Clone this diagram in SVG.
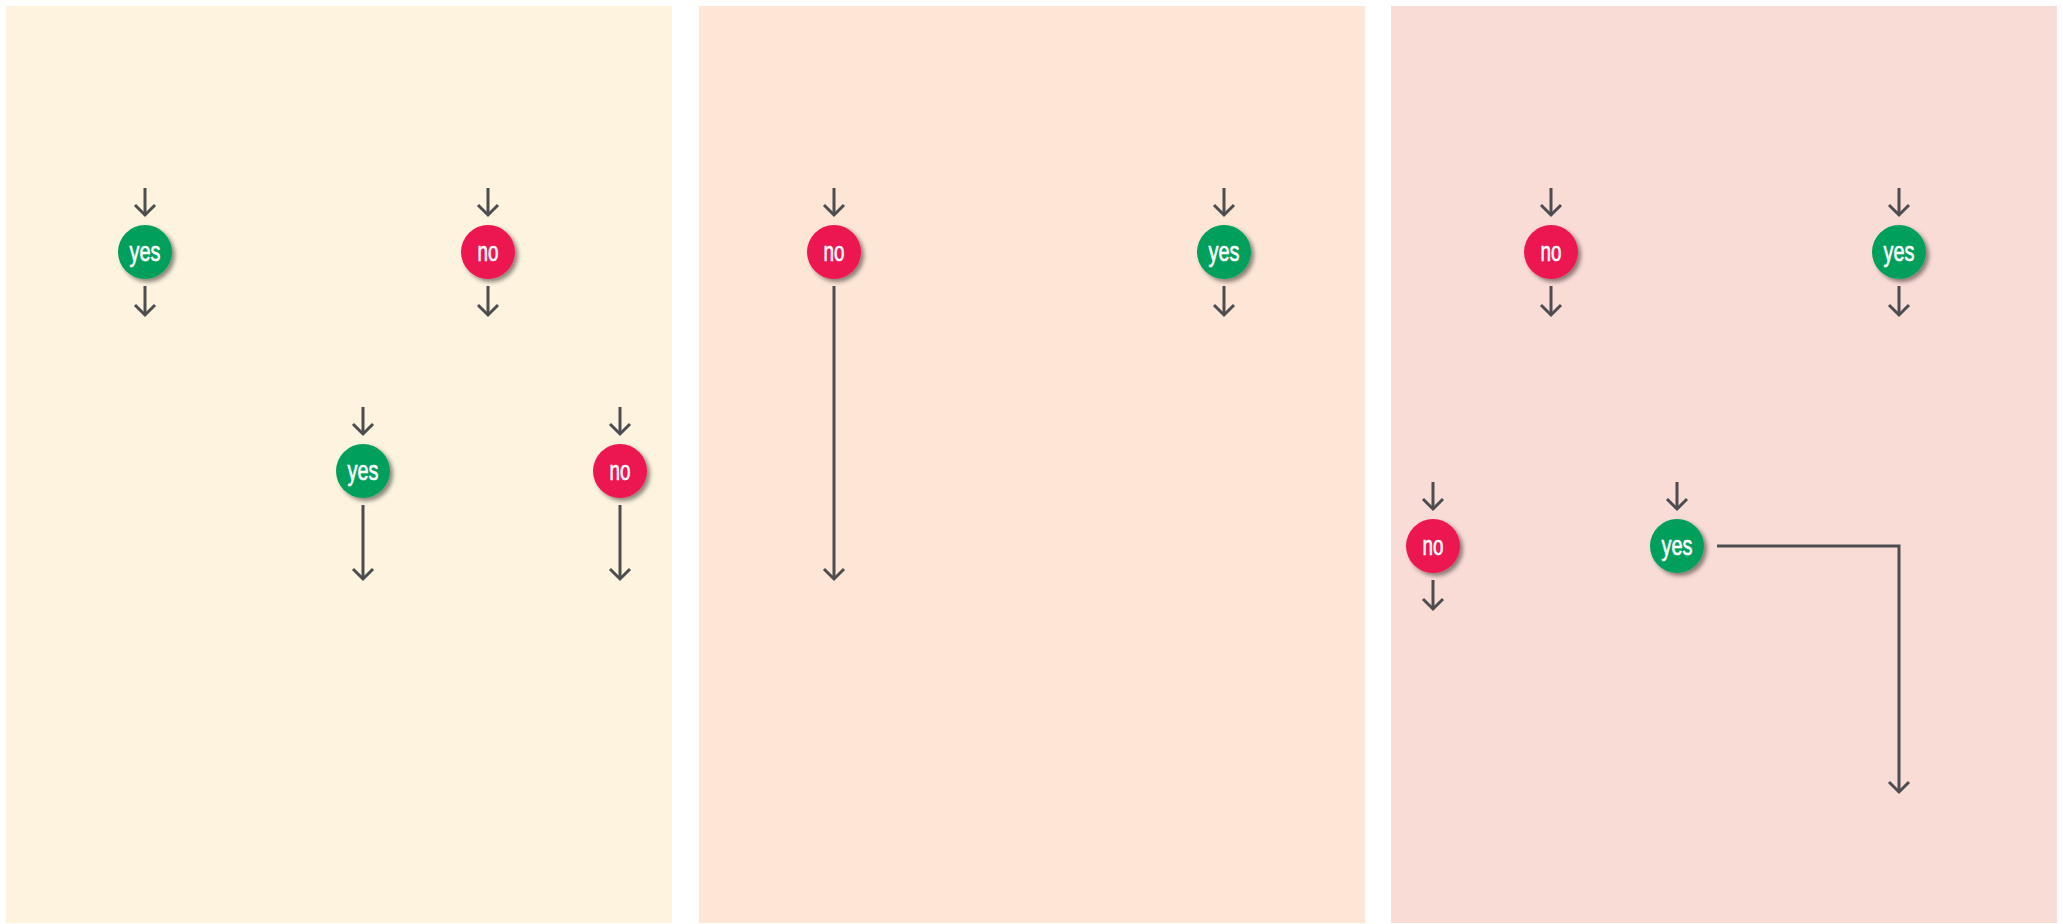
<svg xmlns="http://www.w3.org/2000/svg" width="2063" height="924" viewBox="0 0 2063 924">
<style>
.bg{stroke:none}
.c{stroke:#4d4d4f;stroke-width:3;fill:none}
.yes{fill:#00a05b}
.no{fill:#ec1651}
.t{fill:#ffffff;stroke:#ffffff;stroke-width:0.6;font-family:"Liberation Sans",Arial,sans-serif;font-size:28px;text-anchor:middle}
</style>
<defs>
<marker id="ah" markerUnits="userSpaceOnUse" markerWidth="24" markerHeight="24" viewBox="-12 -12 24 24" refX="0" refY="0" orient="auto">
<path d="M-10,-10 L0,0 L-10,10" fill="none" stroke="#4d4d4f" stroke-width="3"/>
</marker>
<filter id="sh" x="-30%" y="-30%" width="170%" height="170%">
<feDropShadow dx="3" dy="3" stdDeviation="2" flood-color="#000" flood-opacity="0.45"/>
</filter>
</defs>
<rect class="bg" x="0" y="0" width="2063" height="924" fill="#ffffff"/>
<rect class="bg" x="6" y="6" width="666" height="917" fill="#fdf3de"/>
<rect class="bg" x="699" y="6" width="666" height="917" fill="#fde6d5"/>
<rect class="bg" x="1391" y="6" width="666" height="917" fill="#fadcd7"/>
<g id="connectors">
<line class="c" x1="145" y1="188" x2="145" y2="215" marker-end="url(#ah)"/>
<line class="c" x1="145" y1="286" x2="145" y2="315" marker-end="url(#ah)"/>
<line class="c" x1="488" y1="188" x2="488" y2="215" marker-end="url(#ah)"/>
<line class="c" x1="488" y1="286" x2="488" y2="315" marker-end="url(#ah)"/>
<line class="c" x1="363" y1="407" x2="363" y2="434" marker-end="url(#ah)"/>
<line class="c" x1="363" y1="505" x2="363" y2="579" marker-end="url(#ah)"/>
<line class="c" x1="620" y1="407" x2="620" y2="434" marker-end="url(#ah)"/>
<line class="c" x1="620" y1="505" x2="620" y2="579" marker-end="url(#ah)"/>
<line class="c" x1="834" y1="188" x2="834" y2="215" marker-end="url(#ah)"/>
<line class="c" x1="834" y1="286" x2="834" y2="579" marker-end="url(#ah)"/>
<line class="c" x1="1224" y1="188" x2="1224" y2="215" marker-end="url(#ah)"/>
<line class="c" x1="1224" y1="286" x2="1224" y2="315" marker-end="url(#ah)"/>
<line class="c" x1="1551" y1="188" x2="1551" y2="215" marker-end="url(#ah)"/>
<line class="c" x1="1551" y1="286" x2="1551" y2="315" marker-end="url(#ah)"/>
<line class="c" x1="1899" y1="188" x2="1899" y2="215" marker-end="url(#ah)"/>
<line class="c" x1="1899" y1="286" x2="1899" y2="315" marker-end="url(#ah)"/>
<line class="c" x1="1433" y1="482" x2="1433" y2="509" marker-end="url(#ah)"/>
<line class="c" x1="1433" y1="580" x2="1433" y2="609" marker-end="url(#ah)"/>
<line class="c" x1="1677" y1="482" x2="1677" y2="509" marker-end="url(#ah)"/>
<polyline class="c" points="1717,546 1899,546 1899,792" marker-end="url(#ah)"/>
</g>
<g id="n1"><circle class="yes" cx="145" cy="252" r="27" filter="url(#sh)"/><text class="t" x="145" y="261" textLength="31" lengthAdjust="spacingAndGlyphs">yes</text></g>
<g id="n2"><circle class="no" cx="488" cy="252" r="27" filter="url(#sh)"/><text class="t" x="488" y="261" textLength="21" lengthAdjust="spacingAndGlyphs">no</text></g>
<g id="n3"><circle class="yes" cx="363" cy="471" r="27" filter="url(#sh)"/><text class="t" x="363" y="480" textLength="31" lengthAdjust="spacingAndGlyphs">yes</text></g>
<g id="n4"><circle class="no" cx="620" cy="471" r="27" filter="url(#sh)"/><text class="t" x="620" y="480" textLength="21" lengthAdjust="spacingAndGlyphs">no</text></g>
<g id="n5"><circle class="no" cx="834" cy="252" r="27" filter="url(#sh)"/><text class="t" x="834" y="261" textLength="21" lengthAdjust="spacingAndGlyphs">no</text></g>
<g id="n6"><circle class="yes" cx="1224" cy="252" r="27" filter="url(#sh)"/><text class="t" x="1224" y="261" textLength="31" lengthAdjust="spacingAndGlyphs">yes</text></g>
<g id="n7"><circle class="no" cx="1551" cy="252" r="27" filter="url(#sh)"/><text class="t" x="1551" y="261" textLength="21" lengthAdjust="spacingAndGlyphs">no</text></g>
<g id="n8"><circle class="yes" cx="1899" cy="252" r="27" filter="url(#sh)"/><text class="t" x="1899" y="261" textLength="31" lengthAdjust="spacingAndGlyphs">yes</text></g>
<g id="n9"><circle class="no" cx="1433" cy="546" r="27" filter="url(#sh)"/><text class="t" x="1433" y="555" textLength="21" lengthAdjust="spacingAndGlyphs">no</text></g>
<g id="n10"><circle class="yes" cx="1677" cy="546" r="27" filter="url(#sh)"/><text class="t" x="1677" y="555" textLength="31" lengthAdjust="spacingAndGlyphs">yes</text></g>
</svg>
